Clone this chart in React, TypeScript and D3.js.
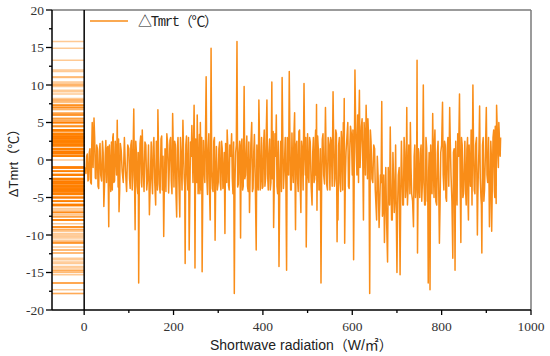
import React from "react";
import * as d3 from "d3";

// Shortwave radiation (W/m²) samples, by 50-unit segment (peaks and troughs)
const radiation: number[] = [
  1, 4, 7, 10, 13, 16, 18, 22, 25, 28, 31, 34, 37, 41, 44, 47,
  50, 53, 55, 58, 61, 63, 65, 68, 71, 74, 76, 78, 81, 85, 90, 95,
  100, 103, 106, 109, 111, 114, 117, 120, 122, 125, 128, 130, 134, 138, 142, 146,
  150, 153, 156, 160, 163, 165, 168, 172, 175, 178, 181, 185, 189, 192, 195, 198,
  201, 204, 207, 210, 214, 217, 221, 224, 226, 229, 232, 235, 238, 241, 246, 248,
  251, 253, 255, 258, 260, 262, 264, 267, 270, 273, 276, 279, 282, 284, 287, 290, 293, 296,
  300, 303, 306, 309, 312, 315, 318, 320, 323, 326, 330, 333, 336, 339, 342, 345, 348,
  350, 353, 356, 358, 361, 364, 367, 370, 373, 375, 378, 381, 385, 388, 391, 394, 397,
  400, 403, 406, 409, 412, 415, 418, 420, 422, 424, 427, 430, 433, 436, 440, 443, 446,
  450, 453, 456, 459, 462, 465, 468, 471, 473, 476, 479, 482, 485, 488, 492, 495, 497,
  500, 503, 506, 510, 513, 516, 518, 520, 521, 524, 527, 530, 533, 536, 540, 543, 546,
  550, 553, 557, 560, 563, 566, 568, 571, 574, 577, 580, 582, 583, 586, 590, 593, 596,
  600, 603, 606, 609, 612, 614, 616, 619, 622, 625, 628, 631, 634, 636, 639, 642, 646,
  650, 653, 656, 660, 663, 666, 669, 672, 675, 679, 682, 685, 688, 691, 694, 697, 700,
  703, 707, 710, 713, 716, 719, 722, 725, 728, 730, 733, 737, 740, 743, 745, 746, 748,
  751, 754, 757, 759, 762, 765, 768, 770, 772, 774, 777, 780, 783, 785, 789, 792, 795, 798,
  802, 805, 808, 811, 814, 818, 821, 825, 828, 830, 833, 836, 840, 843, 846, 849,
  852, 855, 858, 860, 863, 866, 870, 873, 876, 880, 882, 885, 888, 890, 893, 896, 900,
  903, 907, 910, 912, 915, 918, 920, 922, 923, 926, 928, 930, 932,
];

// ΔTmrt (°C) at each sample above, same order
const deltaTmrt: number[] = [
  -1.0, -1.8, 0.8, -2.6, 1.5, -3.2, 5.0, 5.6, -2.4, 2.0, -3.5, 1.2, -2.0, 2.5, -6.2, 0.5,
  -3.0, 1.8, -8.9, -1.0, 2.4, -4.0, 3.5, -2.8, 1.0, 5.3, -3.6, -6.9, 2.2, -1.5, 3.0, -4.2,
  1.5, -3.8, 2.6, -2.0, 6.8, -9.3, 1.0, -4.5, -16.4, 2.2, -3.0, 4.0, -4.2, 2.0, -2.5, -7.3,
  2.4, -4.5, 3.0, -6.0, 1.2, 6.7, -3.2, 2.8, -4.0, -10.2, 1.5, 3.5, -4.4, 2.6, -2.8, 6.2,
  -3.6, 2.0, -7.6, 3.0, -7.6, 0.8, 5.3, -2.5, -13.8, 3.2, -4.0, -12.0, 2.4, 4.6, 7.3, -14.4,
  -2.0, 6.0, -4.5, 3.4, 5.0, -4.0, -14.9, 2.6, -3.0, 11.1, -4.6, 3.5, -8.0, 14.9, -3.8, 2.5, -10.7, 1.8,
  -3.0, 2.4, -4.0, 1.5, -2.5, -9.8, 0.8, 4.0, -3.4, 2.0, 3.5, -4.5, -17.8, 1.0, 15.8, -3.2, 2.5,
  -10.4, 2.8, -3.5, 9.8, -2.0, 3.2, -4.2, -7.0, 2.0, 5.0, -3.8, 3.4, -12.0, -1.5, 8.0, -4.0, 3.0,
  -3.6, 4.0, -2.5, 8.0, -4.0, 2.8, -3.0, 10.4, 1.0, -9.0, 3.5, 6.0, -4.5, -14.2, 2.5, 11.0, -3.8,
  3.0, -14.7, 2.0, 11.8, -4.0, 3.6, -3.0, 6.3, -9.3, 2.5, -4.2, 4.0, -7.0, 1.5, 10.2, -2.0, -11.6,
  3.5, -3.0, 2.4, -6.0, 3.0, -2.5, 4.0, 7.4, -6.7, 1.5, -3.5, -16.4, 2.8, -2.0, 7.0, -3.4, 3.0,
  -4.0, 2.5, 9.1, -3.5, 4.0, -10.9, -8.0, 3.0, -4.2, 2.2, 5.0, 8.2, -11.1, 1.0, 5.0, -3.8, 4.5,
  -2.0, -13.3, 12.0, 1.0, 6.0, -3.0, 9.3, 2.0, 5.5, -8.0, 3.0, 7.3, -2.5, 4.0, -17.8, 2.5, -3.0,
  1.5, -6.0, 0.5, -9.0, -2.0, 7.8, -6.5, -11.0, -1.0, -13.6, -4.0, 4.4, -8.0, 1.0, -7.0, 2.0, -15.0,
  -2.0, -15.3, 2.5, -6.0, 3.0, -5.0, 7.0, -3.5, 1.0, 5.0, -4.5, -8.9, 2.0, -3.0, 13.3, -12.4, 1.5,
  -5.0, 2.0, -3.0, 10.0, -6.0, 3.0, -5.5, -16.4, 1.0, -17.3, -2.0, 6.2, -5.0, 4.0, -6.0, 2.5, -11.1, 1.0,
  7.7, -4.0, 2.0, -5.5, 3.0, 7.0, -2.0, -13.1, 1.5, -14.7, -3.0, 3.5, 8.8, -11.0, 2.0, -4.5,
  2.5, -6.0, 3.0, -8.0, -1.0, 4.0, 10.0, -4.0, 2.0, -10.0, -2.0, 7.2, -5.0, -12.4, 3.0, -4.0, 7.0,
  -3.0, -8.9, 2.5, -9.5, 3.0, -4.0, 4.5, -5.8, 7.3, 0.5, 5.0, 1.0, 3.0,
];

// Additional samples inside the dense core band
const radiationCore: number[] = [
  2.5, 5.5, 8.5, 11.5, 14.5, 17, 20, 23.5, 26.5, 29.5, 32.5, 35.5, 39, 42.5, 45.5, 48.5,
  51.5, 54, 56.5, 59.5, 62, 64, 66.5, 69.5, 72.5, 75, 77, 79.5, 83, 87.5, 92.5, 97.5,
  101.5, 104.5, 107.5, 110, 112.5, 115.5, 118.5, 121, 123.5, 126.5, 129, 132, 136, 140, 144, 148,
  151.5, 154.5, 158, 161.5, 164, 166.5, 170, 173.5, 176.5, 179.5, 183, 187, 190.5, 193.5, 196.5, 199.5,
  202.5, 205.5, 208.5, 212, 215.5, 219, 222.5, 225, 227.5, 230.5, 233.5, 236.5, 239.5, 243.5, 247, 249.5,
  252, 254, 256.5, 259, 261, 263, 265.5, 268.5, 271.5, 274.5, 277.5, 280.5, 283, 285.5, 288.5, 291.5, 294.5, 298,
  301.5, 304.5, 307.5, 310.5, 313.5, 316.5, 319, 321.5, 324.5, 328, 331.5, 334.5, 337.5, 340.5, 343.5, 346.5, 349,
  351.5, 354.5, 357, 359.5, 362.5, 365.5, 368.5, 371.5, 374, 376.5, 379.5, 383, 386.5, 389.5, 392.5, 395.5, 398.5,
  401.5, 404.5, 407.5, 410.5, 413.5, 416.5, 419, 421, 423, 425.5, 428.5, 431.5, 434.5, 438, 441.5, 444.5, 448,
  451.5, 454.5, 457.5, 460.5, 463.5, 466.5, 469.5, 472, 474.5, 477.5, 480.5, 483.5, 486.5, 490, 493.5, 496, 498.5,
  501.5, 504.5, 508, 511.5, 514.5, 517, 519, 522.5, 525.5, 528.5, 531.5, 534.5, 538, 541.5, 544.5, 548,
  551.5, 555, 558.5, 561.5, 564.5, 567, 569.5, 572.5, 575.5, 578.5, 581, 584.5, 588, 591.5, 594.5, 598,
  601.5, 604.5, 607.5, 610.5, 613, 615, 617.5, 620.5, 623.5, 626.5, 629.5, 632.5, 635, 637.5, 640.5, 644, 648,
  651.5, 654.5, 658, 661.5, 664.5, 667.5, 670.5, 673.5, 677, 680.5, 683.5, 686.5, 689.5, 692.5, 695.5, 698.5,
  701.5, 705, 708.5, 711.5, 714.5, 717.5, 720.5, 723.5, 726.5, 729, 731.5, 735, 738.5, 741.5, 744, 747, 749.5,
  752.5, 755.5, 758, 760.5, 763.5, 766.5, 769, 771, 773, 775.5, 778.5, 781.5, 784, 787, 790.5, 793.5, 796.5, 800,
  803.5, 806.5, 809.5, 812.5, 816, 819.5, 823, 826.5, 829, 831.5, 834.5, 838, 841.5, 844.5, 847.5, 850.5,
  853.5, 856.5, 859, 861.5, 864.5, 868, 871.5, 874.5, 878, 881, 883.5, 886.5, 889, 891.5, 894.5, 898, 901.5,
  905, 908.5, 911, 913.5, 916.5, 919, 921, 924.5, 927, 929, 931,
];

const deltaTmrtCore: number[] = [
  -1.5, 0.5, -2.8, 1.0, -3.0, 2.0, -1.0, 3.0, -2.5, 1.5, -3.8, 2.2, -2.8, 1.0, -3.5, 2.6,
  1.5, -3.5, 2.0, -4.2, 1.0, 3.0, -3.0, 2.5, -2.0, 0.5, 2.8, -4.0, 1.2, -3.0, -1.5, 2.0,
  -2.5, 2.0, -4.0, 3.0, -1.5, 2.5, -3.5, 1.0, -2.0, 3.2, -3.6, -1.0, 2.4, -4.0, 2.0, -3.0,
  -2.5, 1.8, -3.0, 2.5, -4.0, 1.0, -4.4, 3.2, 0.5, -3.0, -4.2, 2.0, -1.0, 3.0, -4.5, 1.5,
  2.5, -4.5, 1.5, -3.0, 3.0, -4.0, 1.0, -3.5, 2.0, -2.0, 3.0, -4.6, 0.5, -3.0, 1.5, 2.8,
  -3.0, 2.5, -2.0, -4.5, 1.0, 3.0, -3.5, -1.0, 3.2, -2.5, 1.5, -4.0, 2.0, -1.5, -4.2, 3.0, -2.0, -4.0,
  1.5, -3.0, 2.5, -3.8, 1.0, 2.2, -3.0, 1.5, -4.0, 0.5, -2.5, 2.4, -3.0, 2.0, -3.6, 1.0, -2.0,
  2.0, -4.0, 3.0, -2.5, 1.0, -3.5, 2.4, -2.0, 3.5, -4.2, 1.0, -3.0, 2.0, -4.0, 2.5, -2.0, -3.8,
  2.0, -3.5, 3.5, -2.0, 1.0, -4.0, 3.0, -2.5, 3.8, -3.0, 0.5, -3.5, 2.5, -2.0, -4.2, 3.0, -1.0,
  -3.5, 3.0, -2.0, 2.5, -4.0, -1.0, 3.5, -3.0, 2.0, -2.5, 3.8, -3.5, 2.5, -4.0, 1.0, 3.0, -3.0,
  -2.0, 3.0, -3.5, 1.0, -3.0, 2.5, -2.0, 3.2, -4.0, 1.5, -2.5, 3.5, -3.2, 0.5, -4.0, 2.0,
  3.0, -3.5, 2.0, -2.5, 3.5, -4.0, 2.0, -3.0, 3.8, -4.0, 1.0, -2.5, 3.0, -3.5, 1.5, 3.5,
  4.0, -1.0, 5.0, -2.0, 3.5, 6.0, -1.0, 4.5, 0.0, 5.0, -2.0, 3.0, 5.5, -1.5, 4.0, -2.5, 2.0,
  -4.0, -8.0, -2.5, -6.0, -3.0, -7.5, -2.0, -5.5, -8.5, -1.0, -6.0, -3.0, -8.0, -2.5, -5.0, -7.0,
  -6.0, -1.0, -4.5, -2.0, -6.0, 1.0, -3.5, -6.0, 2.0, -4.5, -1.0, -5.5, 0.5, -5.0, -2.0, -6.0, -2.5,
  1.0, -5.5, 2.5, -3.0, -6.0, 1.5, -4.0, -1.5, -6.0, 2.0, -4.5, -1.0, 2.5, -5.5, 1.0, -4.0, -6.0, 2.0,
  -2.0, 2.5, -5.0, 1.5, -3.5, 2.0, -5.5, 1.0, -4.0, 2.5, -6.0, 0.5, -3.0, 3.0, -5.0, -1.0,
  -4.0, 1.5, -5.5, 2.0, -3.5, -6.0, 1.0, -4.5, 3.0, -5.0, 1.5, -2.5, -6.0, 2.0, -5.5, 1.0, -2.0,
  3.0, -4.5, 1.0, -3.0, 4.0, -5.0, 2.0, 4.0, -1.0, 3.5, 0.5,
];

const xMajorTicks = [0, 200, 400, 600, 800, 1000];
const xMinorTicks = [100, 300, 500, 700, 900];
const yMajorTicks = [-20, -15, -10, -5, 0, 5, 10, 15, 20];
const yMinorTicks = [-17.5, -12.5, -7.5, -2.5, 2.5, 7.5, 12.5, 17.5];

const seriesName = "△Tmrt（℃）";
const xTitle = "Shortwave radiation（W/㎡）";
const yTitle = "ΔTmrt（℃）";

const W = 550;
const H = 356;
const L = 52, R = 531, T = 10, B = 310;
const ORANGE = "#f98d18";

export default function App() {
  const x = d3.scaleLinear().domain([-72, 1000]).range([L, R]);
  const y = d3.scaleLinear().domain([-20, 20]).range([B, T]);
  const pts: [number, number][] = [];
  const n1 = Math.min(radiation.length, deltaTmrt.length);
  for (let i = 0; i < n1; i++) pts.push([radiation[i], deltaTmrt[i]]);
  const n2 = Math.min(radiationCore.length, deltaTmrtCore.length);
  for (let i = 0; i < n2; i++) pts.push([radiationCore[i], deltaTmrtCore[i]]);
  pts.sort((a, b) => a[0] - b[0]);
  const line = d3
    .line<[number, number]>()
    .x((d) => x(d[0]))
    .y((d) => y(d[1]));

  return (
    <svg
      width={W}
      height={H}
      style={{ position: "absolute", left: 0, top: 0, background: "#fff" }}
    >
      <defs>
        <clipPath id="plotclip">
          <rect x={L} y={T} width={R - L} height={B - T} />
        </clipPath>
      </defs>
      <rect x={0} y={0} width={W} height={H} fill="#fff" />
      {/* rug of values left of zero */}
      <g>
        {pts.map((d, i) => (
          <line
            key={"r" + i}
            x1={x(-72)}
            x2={x(0)}
            y1={y(d[1])}
            y2={y(d[1])}
            stroke="#ff8000"
            strokeOpacity={0.42}
            strokeWidth={1.5}
          />
        ))}
      </g>
      {/* main series */}
      <path
        d={line(pts) || ""}
        fill="none"
        stroke={ORANGE}
        strokeWidth={1.5}
        strokeLinejoin="round"
        clipPath="url(#plotclip)"
      />
      {/* frame */}
      <line x1={L} x2={R} y1={T} y2={T} stroke="#7a7a7a" strokeWidth={1.5} />
      <line x1={R} x2={R} y1={T} y2={B} stroke="#7a7a7a" strokeWidth={1.5} />
      <line x1={L} x2={L} y1={T} y2={B} stroke="#000" strokeWidth={1.5} />
      <line x1={L} x2={R} y1={B} y2={B} stroke="#000" strokeWidth={1.5} />
      <line x1={x(0)} x2={x(0)} y1={T} y2={B} stroke="#000" strokeWidth={1.5} />
      {/* x ticks */}
      {xMajorTicks.map((t) => (
        <g key={"xt" + t}>
          <line x1={x(t)} x2={x(t)} y1={B} y2={B + 5} stroke="#000" strokeWidth={1.3} />
          <text
            x={x(t)}
            y={331}
            textAnchor="middle"
            fontFamily="'Liberation Serif', serif"
            fontSize={13.5}
            fill="#333"
          >
            {t}
          </text>
        </g>
      ))}
      {xMinorTicks.map((t) => (
        <line key={"xm" + t} x1={x(t)} x2={x(t)} y1={B} y2={B + 3} stroke="#000" strokeWidth={1.3} />
      ))}
      {/* y ticks */}
      {yMajorTicks.map((t) => (
        <g key={"yt" + t}>
          <line x1={L - 6} x2={L} y1={y(t)} y2={y(t)} stroke="#000" strokeWidth={1.3} />
          <text
            x={44}
            y={y(t)}
            dy="0.35em"
            textAnchor="end"
            fontFamily="'Liberation Serif', serif"
            fontSize={13.5}
            fill="#333"
          >
            {t}
          </text>
        </g>
      ))}
      {yMinorTicks.map((t) => (
        <line key={"ym" + t} x1={L - 3} x2={L} y1={y(t)} y2={y(t)} stroke="#000" strokeWidth={1.3} />
      ))}
      {/* legend */}
      <line x1={90} x2={128} y1={21} y2={21} stroke={ORANGE} strokeWidth={1.5} />
      <text
        x={138}
        y={26}
        fontFamily="'Liberation Mono', 'Noto Sans CJK SC', monospace"
        fontSize={14}
        fill="#222"
        textLength={80}
        lengthAdjust="spacing"
      >
        {seriesName}
      </text>
      {/* axis titles */}
      <text
        x={210}
        y={350}
        fontFamily="'Liberation Sans', 'Noto Sans CJK SC', sans-serif"
        fontSize={14}
        fill="#222"
      >
        {xTitle}
      </text>
      <text
        transform="translate(18,160) rotate(-90)"
        textAnchor="middle"
        fontFamily="'Liberation Sans', 'Noto Sans CJK SC', sans-serif"
        fontSize={13}
        fill="#222"
      >
        {yTitle}
      </text>
    </svg>
  );
}
